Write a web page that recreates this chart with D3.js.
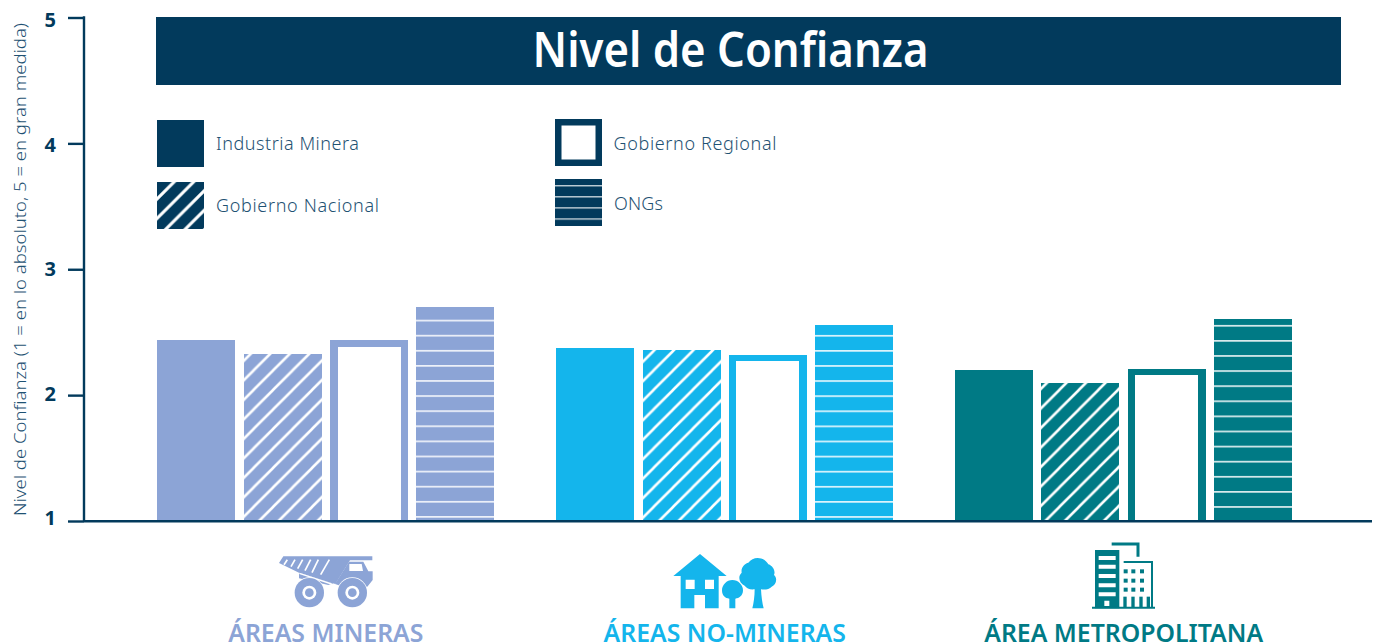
<!DOCTYPE html>
<html><head><meta charset="utf-8">
<script src="https://cdn.jsdelivr.net/npm/d3@7/dist/d3.min.js"></script>
<style>html,body{margin:0;padding:0;background:#fff;overflow:hidden}svg{display:block}</style>
</head><body><svg id="c" width="1378" height="642"></svg>
<script>
const categories = ["ÁREAS MINERAS","ÁREAS NO-MINERAS","ÁREA METROPOLITANA"];
const seriesNames = ["Industria Minera","Gobierno Nacional","Gobierno Regional","ONGs"];
const industria = [2.44,2.375,2.20];
const nacional = [2.33,2.36,2.10];
const regional = [2.44,2.32,2.21];
const ongs = [2.70,2.56,2.605];
const yTicks = [1,2,3,4,5];
const colors = ["#8ca4d6","#14b5ec","#007a85"];
const dark = "#023a5c";
const textBlue = "#1f5273";
const font = "'Noto Sans','Open Sans',sans-serif";

const svg = d3.select("#c");
const y = d3.scaleLinear().domain([1,5]).range([521,17.5]);
const x0 = d3.scaleBand().domain(categories).range([157.25,1292.25]).paddingInner(0.15467).paddingOuter(0);
const x1 = d3.scaleBand().domain(seriesNames).range([0,x0.bandwidth()]).paddingInner(0.09722).paddingOuter(0);
const defs = svg.append("defs");
function hatch(id,c,anchor,sw){
  const P=19.5;
  const p = defs.append("pattern").attr("id",id).attr("patternUnits","userSpaceOnUse")
    .attr("width",P).attr("height",P).attr("patternTransform",`translate(${anchor},0)`);
  p.append("rect").attr("width",P).attr("height",P).attr("fill",c);
  p.append("path").attr("d",`M-3,${P+3}L${P+3},-3M-5,5L5,-5M${P-5},${P+5}L${P+5},${P-5}`).attr("stroke","#fff").attr("stroke-width",sw);
}
function lines(id,c,period,offset,w,op){
  const p = defs.append("pattern").attr("id",id).attr("patternUnits","userSpaceOnUse")
    .attr("width",20).attr("height",period).attr("patternTransform",`translate(0,${offset})`);
  p.append("rect").attr("width",20).attr("height",period).attr("fill",c);
  p.append("rect").attr("y",0).attr("width",20).attr("height",w).attr("fill","#fff").attr("fill-opacity",op);
}
const hatchAnchor=[0,10,6.3], lineAnchor=[319.7,334.9,324.9];
colors.forEach((c,i)=>{hatch("h"+i,c,hatchAnchor[i],2.6);lines("l"+i,c,15.1,lineAnchor[i],1.7,.85);});
hatch("hd",dark,5,3.1); lines("ld",dark,11.1,185,1.4,.75);

// header
svg.append("rect").attr("x",156).attr("y",17).attr("width",1185).attr("height",68).attr("fill",dark);
svg.append("text").attr("x",730.5).attr("y",67).attr("text-anchor","middle").attr("fill","#fff")
  .attr("font-family",font).attr("font-size",48).attr("font-weight",600)
  .attr("textLength",396).attr("lengthAdjust","spacingAndGlyphs").text("Nivel de Confianza");

// axes
const yAxis = d3.axisLeft(y).tickValues(yTicks).tickSize(16).tickPadding(12).tickFormat(d3.format("d"));
const ga = svg.append("g").attr("transform","translate(84,0)").call(yAxis);
ga.select(".domain").attr("stroke",dark).attr("stroke-width",2.4).attr("d","M0,16.3V521");
ga.selectAll(".tick line").attr("stroke",dark).attr("stroke-width",2.4);
ga.selectAll(".tick text").attr("fill",dark).attr("font-family",font).attr("font-size",20).attr("font-weight",700)
  .attr("y",d=>(d-3)*1.25);
svg.append("text").attr("transform","translate(26,269.5) rotate(-90)").attr("text-anchor","middle")
  .attr("fill",textBlue).attr("font-family",font).attr("font-size",16.5).attr("font-weight",300)
  .attr("textLength",493).attr("lengthAdjust","spacingAndGlyphs")
  .text("Nivel de Confianza (1 = en lo absoluto, 5 = en gran medida)");

// bars
const series = [industria,nacional,regional,ongs];
const borderW = [[8,7,7],[7,8,6],[7,8,6]]; // left, right, top
categories.forEach((cat,ci)=>{
  const g = svg.append("g");
  seriesNames.forEach((s,si)=>{
    const v = series[si][ci], bx=Math.round(x0(cat)+x1(s)), bw=Math.round(x1.bandwidth()), top=Math.round(y(v)), bot=y(1);
    const h=bot-top;
    if(si===0) g.append("rect").attr("x",bx).attr("y",top).attr("width",bw).attr("height",h).attr("fill",colors[ci]);
    if(si===1) g.append("rect").attr("x",bx).attr("y",top).attr("width",bw).attr("height",h).attr("fill",`url(#h${ci})`);
    if(si===2){
      const [l,r,t]=borderW[ci];
      g.append("path").attr("fill",colors[ci])
       .attr("d",`M${bx},${bot}V${top}H${bx+bw}V${bot}H${bx+bw-r}V${top+t}H${bx+l}V${bot}Z`);
    }
    if(si===3) g.append("rect").attr("x",bx).attr("y",top).attr("width",bw).attr("height",h).attr("fill",`url(#l${ci})`);
  });
  const icx = x0(cat)+x0.bandwidth()/2;
  svg.append("text").attr("x",icx).attr("y",641.5).attr("text-anchor","middle").attr("fill",colors[ci])
    .attr("font-family",font).attr("font-size",24.8).attr("font-weight",600).text(cat);
});
svg.append("line").attr("x1",84).attr("x2",1372).attr("y1",521.2).attr("y2",521.2).attr("stroke",dark).attr("stroke-width",2.4);

// legend
const legend = [[157,120],[157,182],[555,119],[555,179]];
const legendTextX = [216,216,613.5,614];
const legendTextY = [150,212,150,210];
const legendTextW = [143,163,163,49];
seriesNames.forEach((s,i)=>{
  const [lx,ly]=legend[i];
  const g=svg.append("g");
  if(i===0) g.append("rect").attr("x",lx).attr("y",ly).attr("width",47).attr("height",47).attr("fill",dark);
  if(i===1) g.append("rect").attr("x",lx).attr("y",ly).attr("width",47).attr("height",47).attr("fill","url(#hd)");
  if(i===2) g.append("rect").attr("x",lx+3.25).attr("y",ly+3.25).attr("width",40.5).attr("height",40.5).attr("fill","none").attr("stroke",dark).attr("stroke-width",6.5);
  if(i===3) g.append("rect").attr("x",lx).attr("y",ly).attr("width",47).attr("height",47).attr("fill","url(#ld)");
  svg.append("text").attr("x",legendTextX[i]).attr("y",legendTextY[i]).attr("fill",textBlue)
    .attr("font-family",font).attr("font-size",18).attr("font-weight",300)
    .attr("textLength",legendTextW[i]).attr("lengthAdjust","spacing").text(s);
});

function icon(ox,oy,c){return svg.append("g").attr("transform",`translate(${ox},${oy}) scale(${1/3})`).attr("fill",c);}
const t = icon(200,530,colors[0]);
t.append("path").attr("d","M237,99L250,79H517V91H450L406,162L392,158L297,128Z");
t.append("path").attr("d","M447,95H490L505,124H518V150L502,170H430L405,162Z");
t.append("path").attr("d","M448,102H485L489,123H448Z").attr("fill","#fff");
["M262,89L252,104","M285,89L273,110","M308,89L293,116","M332,89L315,122","M355,89L336,128","M388,89L362,134"].forEach(d=>t.append("path").attr("d",d).attr("stroke","#fff").attr("stroke-width",5).attr("fill","none"));
t.append("path").attr("d","M297,128L400,160L385,165L297,145Z");
t.append("path").attr("d","M298,130L395,162").attr("stroke","#fff").attr("stroke-width",4);
[328,457].forEach(cx=>{
  t.append("circle").attr("cx",cx).attr("cy",188).attr("r",46).attr("fill","#fff");
  t.append("circle").attr("cx",cx).attr("cy",188).attr("r",44);
  t.append("circle").attr("cx",cx).attr("cy",188).attr("r",21).attr("fill","#fff");
  t.append("circle").attr("cx",cx).attr("cy",188).attr("r",13);
});
const h = icon(590,530,colors[1]);
h.append("path").attr("d","M330,72L410,138H386V235H345V195H313V235H272V138H250Z");
h.append("path").attr("d","M287,149H314V177H287ZM345,149H372V177H345Z").attr("fill","#fff");
h.append("path").attr("d","M427,150C445,150 459,165 459,181C459,197 447,205 436,206V235H418V206C406,205 396,197 396,181C396,165 410,150 427,150Z");
h.append("path").attr("d","M503,84C520,84 530,95 535,103C550,108 557,125 552,135C564,145 558,165 545,170C538,178 525,180 513,178C514,200 517,220 521,235H487C491,220 494,200 494,178C480,180 470,175 464,167C448,160 442,140 455,128C452,112 465,100 475,98C482,90 492,84 503,84Z");
const m = icon(970,530,colors[2]);
m.append("path").attr("d","M375,60H448V235H375Z");
m.append("path").attr("d","M386,78H437V90H386ZM386,104H437V116H386ZM386,132H437V144H386ZM386,160H437V172H386ZM386,187H437V199H386ZM403,212H418V228H403Z").attr("fill","#fff");
m.append("path").attr("d","M366,230H555V236H366Z");
m.append("path").attr("d","M425,42H504V80").attr("fill","none").attr("stroke",colors[2]).attr("stroke-width",9);
m.append("path").attr("d","M461,96H546V232").attr("fill","none").attr("stroke",colors[2]).attr("stroke-width",6);
[467,490,516].forEach(wx=>[124,152,179].forEach(wy=>m.append("rect").attr("x",wx-6).attr("y",wy-6).attr("width",12).attr("height",12)));
[460,484,508,530].forEach(wx=>m.append("rect").attr("x",wx).attr("y",200).attr("width",10).attr("height",32));
</script></body></html>
